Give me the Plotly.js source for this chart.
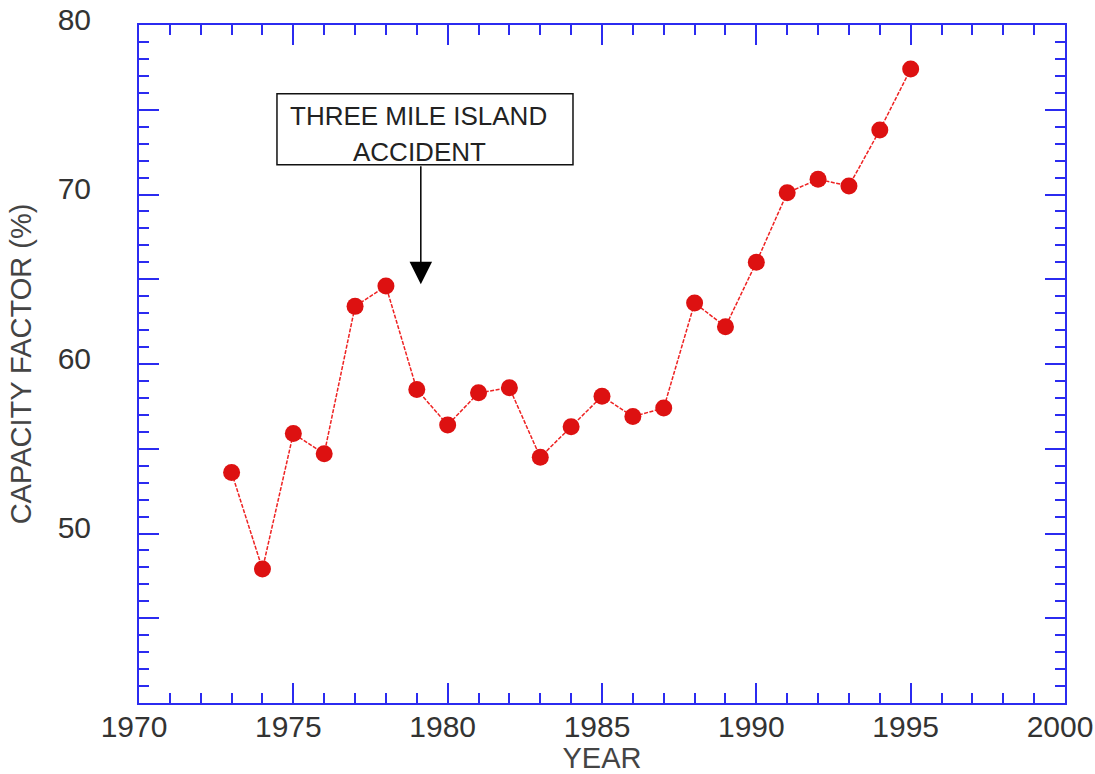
<!DOCTYPE html>
<html>
<head>
<meta charset="utf-8">
<script src="https://cdn.plot.ly/plotly-3.0.1.min.js"></script>
<style>html,body{margin:0;padding:0;background:#fff;}#chart{width:1095px;height:774px;}</style>
</head>
<body>
<div id="chart"></div>
<script>
var years = [1973,1974,1975,1976,1977,1978,1979,1980,1981,1982,1983,1984,1985,1986,1987,1988,1989,1990,1991,1992,1993,1994,1995];
var capacityFactor = [53.6,47.9,55.9,54.7,63.4,64.6,58.5,56.4,58.3,58.6,54.5,56.3,58.1,56.9,57.4,63.6,62.2,66.0,70.1,70.9,70.5,73.8,77.4];
var xTickVals = [1970,1975,1980,1985,1990,1995,2000];
var xTickText = ['1970','1975','1980','1985','1990','1995','2000'];
var yTickVals = [40,45,50,55,60,65,70,75,80];
var yTickText = ['','','50','','60','','70','','80'];
var noteLines = ['THREE MILE ISLAND','ACCIDENT'];
var accidentYear = 1979.13;

var axisBlue = '#2b2bf0';
var tickFont = {family:'Liberation Sans', size:30, color:'#333'};

var trace = {
  x: years, y: capacityFactor, type:'scatter', mode:'lines+markers',
  line:{color:'#ee2222', width:1.5, dash:'4px,1.5px'},
  marker:{symbol:'circle', size:17, color:'#dd1111'},
  hoverinfo:'skip', showlegend:false, cliponaxis:false
};

function axisCommon(){
  return {
    showline:true, linecolor:axisBlue, linewidth:2, mirror:'ticks',
    ticks:'inside', ticklen:20, tickwidth:2, tickcolor:axisBlue,
    showgrid:false, zeroline:false, tickfont:tickFont, ticklabeloverflow:'allow',
    minor:{dtick:1, ticks:'inside', ticklen:10, tickwidth:2, tickcolor:axisBlue, showgrid:false}
  };
}
var xa = axisCommon();
xa.range=[1970,2000]; xa.tickmode='array'; xa.tickvals=xTickVals; xa.ticktext=xTickText;
xa.ticklabelstandoff = -4; xa.ticklabelshift = -5;
xa.title={text:'YEAR', font:{family:'Liberation Sans', size:29, color:'#444'}, standoff:9};
xa.automargin=false;
var ya = axisCommon();
ya.range=[40,80]; ya.tickmode='array'; ya.tickvals=yTickVals; ya.ticktext=yTickText;
ya.ticklabelstandoff = 40; ya.ticklabelshift = -6;
ya.title={text:'CAPACITY FACTOR (%)', font:{family:'Liberation Sans', size:29, color:'#444'}, standoff:17};
ya.automargin=false;

var layout = {
  width:1095, height:774,
  margin:{l:139, r:30, t:25, b:71},
  paper_bgcolor:'#fff', plot_bgcolor:'#fff',
  xaxis:xa, yaxis:ya,
  shapes:[{type:'rect', xref:'x', yref:'y', x0:1974.47, x1:1984.06, y0:71.76, y1:75.94,
           line:{color:'#111', width:1.5}, fillcolor:'rgba(0,0,0,0)'}],
  annotations:[
    {x:1979.07, y:74.65, xref:'x', yref:'y', text:noteLines[0], showarrow:false,
     font:{family:'Liberation Sans', size:26, color:'#222'}},
    {x:1979.10, y:72.53, xref:'x', yref:'y', text:noteLines[1], showarrow:false,
     font:{family:'Liberation Sans', size:26, color:'#222'}},
    {x:accidentYear, y:64.7, xref:'x', yref:'y', axref:'x', ayref:'y', ax:accidentYear, ay:71.76,
     text:'', showarrow:true, arrowhead:2, arrowsize:3, arrowwidth:1.5, arrowcolor:'#000', standoff:0}
  ]
};
Plotly.newPlot('chart', [trace], layout, {displayModeBar:false, staticPlot:true});
</script>
</body>
</html>
